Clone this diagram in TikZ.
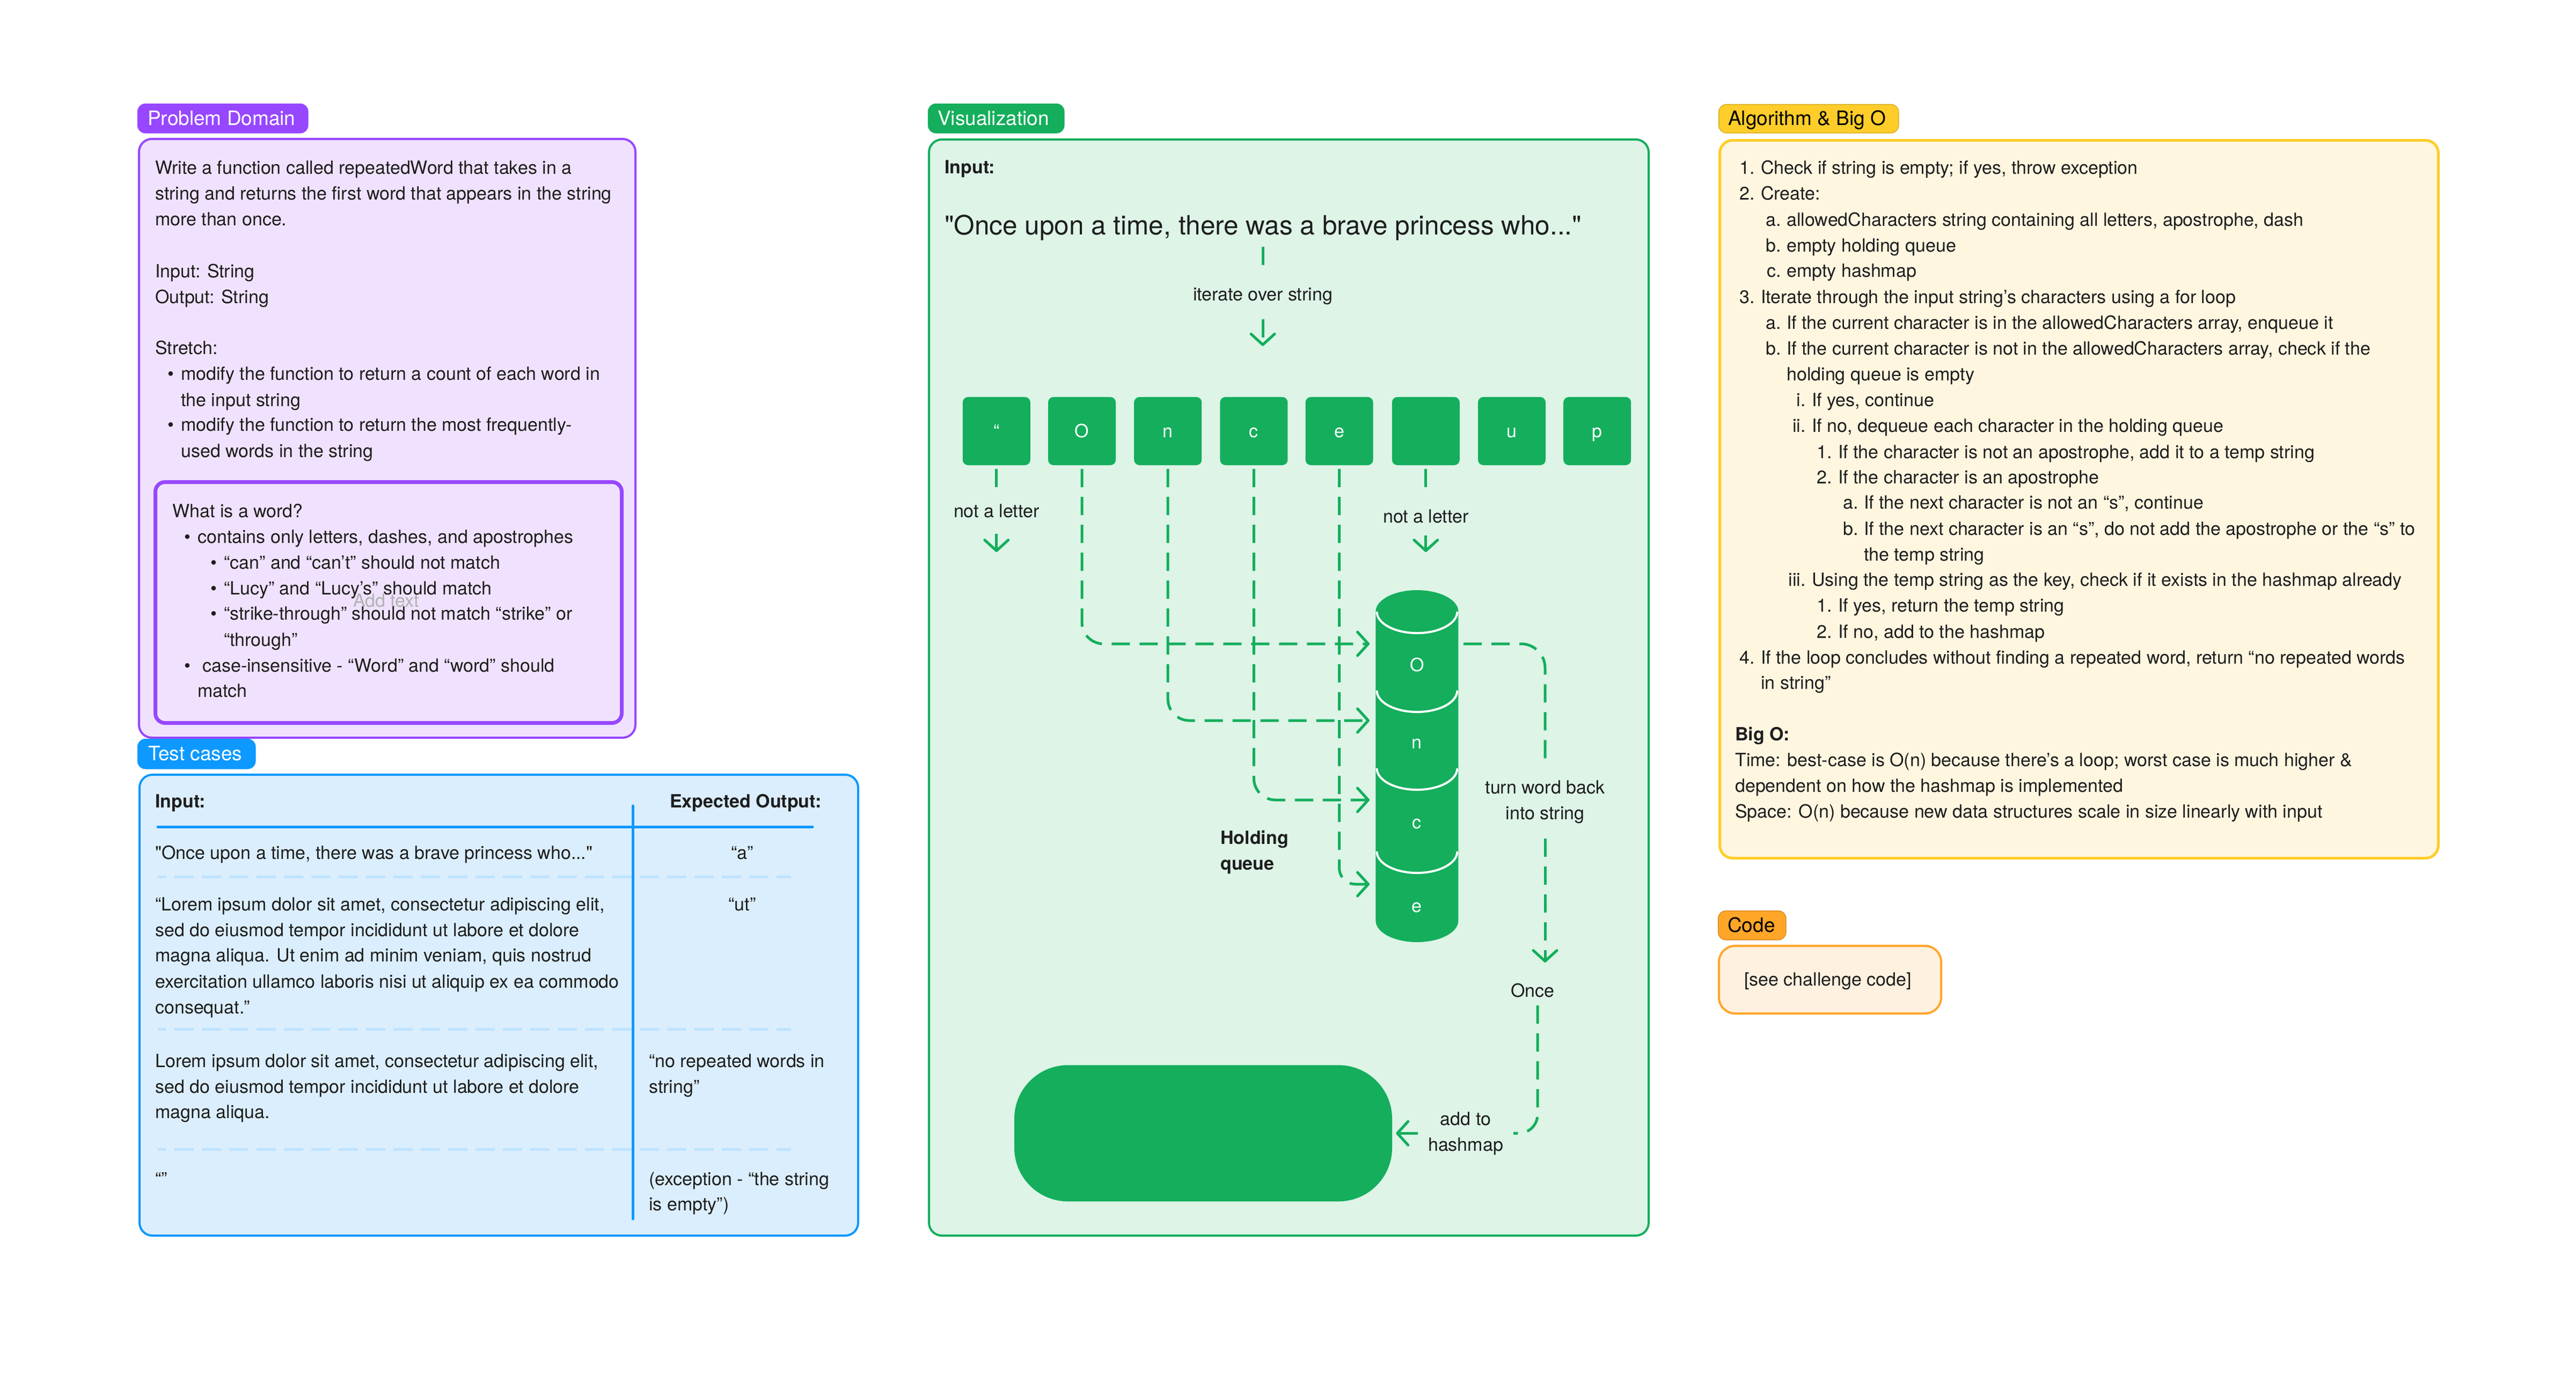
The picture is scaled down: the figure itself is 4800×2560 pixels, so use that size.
\documentclass[tikz,border=0pt]{standalone}
\usepackage{fontspec}
\setmainfont{TeX Gyre Heros}[Ligatures=TeXOff]
\usetikzlibrary{arrows.meta}
\definecolor{txtc}{HTML}{1E1E1E}
\definecolor{pdc}{HTML}{9747FF}
\definecolor{pdfill}{HTML}{F0E2FE}
\definecolor{tcc}{HTML}{0D99FF}
\definecolor{tcfill}{HTML}{DBEEFD}
\definecolor{sepc}{HTML}{BDE3FF}
\definecolor{vc}{HTML}{14AE5C}
\definecolor{vfill}{HTML}{DDF4E7}
\definecolor{ac}{HTML}{FFCD29}
\definecolor{afill}{HTML}{FFF6E0}
\definecolor{cc}{HTML}{FFA629}
\definecolor{cfill}{HTML}{FFF1DF}
\definecolor{addc}{HTML}{B3B3B3}
\newcommand\TL[4]{\node[t,anchor=base west] (#1) at (#2,#3) {#4};}
\newcommand\TB[4]{\node[tb,anchor=base west] (#1) at (#2,#3) {#4};}
\newcommand\MK[4]{\node[t,anchor=base east] (#1) at (#2,#3) {#4};}
\begin{document}
\begin{tikzpicture}[x=1pt,y=-1pt,
  t/.style={inner sep=0pt, text=txtc, font=\fontsize{34}{48}\selectfont},
  tb/.style={inner sep=0pt, text=txtc, font=\fontsize{34}{48}\selectfont\bfseries},
  tagtxt/.style={inner sep=0pt, font=\fontsize{37}{44}\selectfont},
  framebox/.style={line width=4pt, rounded corners=24pt, anchor=north west, inner sep=0pt},
  tagbox/.style={rounded corners=14pt, line width=1.5pt, anchor=north west, inner sep=0pt},
  dl/.style={draw=vc, line width=5pt, dash pattern=on 34pt off 18pt},
  arr/.style={-{Straight Barb[length=20pt,width=44pt,round]}},
  sq/.style={fill=vc, rounded corners=10pt, minimum width=126pt, minimum height=127pt, inner sep=0pt, text=white, font=\fontsize{34}{48}\selectfont, text height=24pt, text depth=0pt},
  lbl/.style={inner sep=0pt, text=txtc, font=\fontsize{34}{48}\selectfont, align=center},
  sepl/.style={draw=sepc, line width=5pt, dash pattern=on 36pt off 15pt},
]
\fill[white] (0,0) rectangle (4800,2560);
\useasboundingbox (0,0) rectangle (4800,2560);

%% ---------------- Problem Domain ----------------
\node[tagbox, fill=pdc, draw=pdc, minimum width=317pt, minimum height=54pt] (pdTag) at (256,193) {};
\node[tagtxt, text=white, anchor=base west] (pdTagT) at (275,233) {Problem Domain};
\node[framebox, draw=pdc, fill=pdfill, minimum width=925pt, minimum height=1116pt] (pdBox) at (257,257) {};
\node[draw=pdc, fill=pdfill, line width=7pt, rounded corners=18pt, anchor=north west, inner sep=0pt, minimum width=869pt, minimum height=449pt] (pdInner) at (286,895) {};
\TL{p1}{289}{324}{Write a function called repeatedWord that takes in a}
\TL{p2}{289}{372}{string and returns the first word that appears in the string}
\TL{p3}{289}{420}{more than once.}
\TL{p4}{289}{517}{Input: String}
\TL{p5}{289}{565}{Output: String}
\TL{p6}{289}{660}{Stretch:}
\TL{pb1}{312}{708}{•}
\TL{p7}{337}{708}{modify the function to return a count of each word in}
\TL{p8}{337}{757}{the input string}
\TL{pb2}{312}{803}{•}
\TL{p9}{337}{803}{modify the function to return the most frequently-}
\TL{p10}{337}{852}{used words in the string}
\node[t, text=addc, anchor=base west] (addtext) at (658,1131) {Add text};
\TL{w1}{321}{964}{What is a word?}
\TL{wb1}{343}{1012}{•}
\TL{w2}{368}{1012}{contains only letters, dashes, and apostrophes}
\TL{wb2}{392}{1060}{•}
\TL{w3}{417}{1060}{“can” and “can’t” should not match}
\TL{wb3}{392}{1108}{•}
\TL{w4}{417}{1108}{“Lucy” and “Lucy’s” should match}
\TL{wb4}{392}{1155}{•}
\TL{w5}{417}{1155}{“strike-through” should not match “strike” or}
\TL{w6}{417}{1204}{“through”}
\TL{wb5}{343}{1252}{•}
\TL{w7}{377}{1252}{case-insensitive - “Word” and “word” should}
\TL{w8}{368}{1299}{match}

%% ---------------- Test cases ----------------
\node[tagbox, fill=tcc, draw=tcc, minimum width=219pt, minimum height=55pt] (tcTag) at (256,1377) {};
\node[tagtxt, text=white, anchor=base west] (tcTagT) at (276,1417) {Test cases};
\node[framebox, draw=tcc, fill=tcfill, minimum width=1339pt, minimum height=859pt] (tcBox) at (258,1442) {};
\TB{tIn}{289}{1505}{Input:}
\TB{tOut}{1248}{1505}{Expected Output:}
\coordinate (hl1) at (294,1541);
\coordinate (hl2) at (1514,1541);
\draw[tcc, line width=5pt, line cap=round] (hl1) -- (hl2);
\coordinate (s1a) at (294,1634); \coordinate (s1b) at (1474,1634);
\coordinate (s2a) at (294,1918); \coordinate (s2b) at (1474,1918);
\coordinate (s3a) at (294,2142); \coordinate (s3b) at (1474,2142);
\draw[sepl, dash phase=20pt] (s1a) -- (s1b);
\draw[sepl, dash phase=20pt] (s2a) -- (s2b);
\draw[sepl, dash phase=20pt] (s3a) -- (s3b);
\coordinate (vl1) at (1179,1502);
\coordinate (vl2) at (1179,2272);
\draw[tcc, line width=5pt, line cap=round] (vl1) -- (vl2);
\TL{r1}{289}{1601}{"Once upon a time, there was a brave princess who..."}
\node[t, anchor=base] (o1) at (1383,1601) {“a”};
\TL{r2a}{289}{1697}{“Lorem ipsum dolor sit amet, consectetur adipiscing elit,}
\TL{r2b}{289}{1745}{sed do eiusmod tempor incididunt ut labore et dolore}
\TL{r2c}{289}{1792}{magna aliqua. Ut enim ad minim veniam, quis nostrud}
\TL{r2d}{289}{1841}{exercitation ullamco laboris nisi ut aliquip ex ea commodo}
\TL{r2e}{289}{1889}{consequat.”}
\node[t, anchor=base] (o2) at (1383,1697) {“ut”};
\TL{r3a}{289}{1989}{Lorem ipsum dolor sit amet, consectetur adipiscing elit,}
\TL{r3b}{289}{2037}{sed do eiusmod tempor incididunt ut labore et dolore}
\TL{r3c}{289}{2084}{magna aliqua.}
\TL{o3a}{1209}{1989}{“no repeated words in}
\TL{o3b}{1209}{2037}{string”}
\TL{r4}{289}{2209}{“”}
\TL{o4a}{1209}{2209}{(exception - “the string}
\TL{o4b}{1209}{2256}{is empty”)}

%% ---------------- Visualization ----------------
\node[tagbox, fill=vc, draw=vc, minimum width=253pt, minimum height=54pt] (vTag) at (1729,193) {};
\node[tagtxt, text=white, anchor=base west] (vTagT) at (1747,233) {Visualization};
\node[framebox, draw=vc, fill=vfill, minimum width=1341pt, minimum height=2043pt] (vBox) at (1729,258) {};
\TB{vIn}{1760}{323}{Input:}
\node[inner sep=0pt, text=txtc, font=\fontsize{49.5}{60}\selectfont, anchor=base west] (bigS) at (1760,437) {"Once upon a time, there was a brave princess who..."};
\node[lbl, minimum height=85pt] (iter) at (2353,552) {iterate over string};
\coordinate (iterA) at (2353,460);
\coordinate (iterEnd) at (2353,645);
\draw[dl] (iterA) -- (iter.north);
\draw[dl, arr] (iter.south) -- (iterEnd);

\node[sq] (c1) at (1856.8,803.5) {“};
\node[sq] (c2) at (2016.0,803.5) {O};
\node[sq] (c3) at (2176.2,803.5) {n};
\node[sq] (c4) at (2336.4,803.5) {c};
\node[sq] (c5) at (2495.6,803.5) {e};
\node[sq] (c6) at (2656.8,803.5) {};
\node[sq] (c7) at (2817.0,803.5) {u};
\node[sq] (c8) at (2976.2,803.5) {p};

% not a letter labels
\node[lbl, minimum height=85pt] (nl1) at (1856.8,952) {not a letter};
\coordinate (nl1End) at (1856.8,1029);
\draw[dl] ([yshift=-7pt]c1.south) -- (nl1.north);
\draw[dl, arr] (nl1.south) -- (nl1End);
\node[lbl, minimum height=72pt] (nl2) at (2656.8,962) {not a letter};
\coordinate (nl2End) at (2656.8,1029);
\draw[dl] ([yshift=-7pt]c6.south) -- (nl2.north);
\draw[dl, arr] (nl2.south) -- (nl2End);

% holding queue cylinder
\foreach \ya/\yb in {1140/1287, 1287/1432, 1432/1587, 1587/1716} {
  \fill[vc] (2563.4,\ya) -- (2563.4,\yb) arc[start angle=180,end angle=360,x radius=77pt,y radius=40pt] -- (2717.4,\ya) -- cycle;
  \fill[vc] (2640.4,\ya) ellipse[x radius=77pt, y radius=40pt];
  \draw[white, line width=4pt] (2565.4,\ya) arc[start angle=180,end angle=360,x radius=75pt,y radius=40pt];
}
\node[t, text=white, anchor=base] (qO) at (2640.4,1251) {O};
\node[t, text=white, anchor=base] (qN) at (2640.4,1395) {n};
\node[t, text=white, anchor=base] (qC) at (2640.4,1544) {c};
\node[t, text=white, anchor=base] (qE) at (2640.4,1700) {e};
\TB{hq1}{2274}{1573}{Holding}
\TB{hq2}{2274}{1621}{queue}

\coordinate (tO) at (2552,1200);
\coordinate (tN) at (2552,1343);
\coordinate (tC) at (2552,1491);
\coordinate (tE) at (2552,1648);
\draw[dl, arr, rounded corners=40pt] ([yshift=-7pt]c2.south) |- (tO);
\draw[dl, arr, rounded corners=40pt] ([yshift=-7pt]c3.south) |- (tN);
\draw[dl, arr, rounded corners=40pt] ([yshift=-7pt]c4.south) |- (tC);
\draw[dl, arr, rounded corners=30pt] ([yshift=-7pt]c5.south) |- (tE);

% turn word back into string
\coordinate (qR) at (2727,1200);
\node[lbl, minimum height=135pt] (turn) at (2879,1495) {turn word back\\into string};
\coordinate (onceIn) at (2879,1794);
\draw[dl, rounded corners=45pt] (qR) -| (turn.north);
\draw[dl, arr] (turn.south) -- (onceIn);
\node[t, anchor=base] (once) at (2856,1858) {Once};
\coordinate (onceOut) at (2865,1874);

% hashmap pill
\node[fill=vc, rounded corners=100pt, minimum width=704pt, minimum height=254pt, inner sep=0pt] (pill) at (2242,2112.3) {};
\node[lbl, minimum width=178pt] (add) at (2731,2112.3) {add to\\hashmap};
\draw[dl, rounded corners=35pt] (onceOut) |- (add.east);
\draw[dl, arr] (add.west) -- ([xshift=7pt]pill.east);

%% ---------------- Algorithm & Big O ----------------
\node[tagbox, fill=ac, draw=ac!85!black, minimum width=335pt, minimum height=53pt] (aTag) at (3202,194) {};
\node[tagtxt, text=black, anchor=base west] (aTagT) at (3220,233) {Algorithm \& Big O};
\node[framebox, draw=ac, fill=afill, line width=5pt, minimum width=1339pt, minimum height=1338pt] (aBox) at (3202,259) {};
\MK{m1}{3270}{324}{1.}   \TL{a1}{3281}{324}{Check if string is empty; if yes, throw exception}
\MK{m2}{3270}{372}{2.}   \TL{a2}{3281}{372}{Create:}
\MK{m3}{3319}{421}{a.}   \TL{a3}{3329}{421}{allowedCharacters string containing all letters, apostrophe, dash}
\MK{m4}{3319}{469}{b.}   \TL{a4}{3329}{469}{empty holding queue}
\MK{m5}{3319}{516}{c.}   \TL{a5}{3329}{516}{empty hashmap}
\MK{m6}{3270}{565}{3.}   \TL{a6}{3281}{565}{Iterate through the input string’s characters using a for loop}
\MK{m7}{3319}{613}{a.}   \TL{a7}{3329}{613}{If the current character is in the allowedCharacters array, enqueue it}
\MK{m8}{3319}{661}{b.}   \TL{a8}{3329}{661}{If the current character is not in the allowedCharacters array, check if the}
                          \TL{a9}{3329}{709}{holding queue is empty}
\MK{m10}{3365}{757}{i.}  \TL{a10}{3376}{757}{If yes, continue}
\MK{m11}{3365}{805}{ii.} \TL{a11}{3376}{805}{If no, dequeue each character in the holding queue}
\MK{m12}{3414}{854}{1.}  \TL{a12}{3425}{854}{If the character is not an apostrophe, add it to a temp string}
\MK{m13}{3414}{901}{2.}  \TL{a13}{3425}{901}{If the character is an apostrophe}
\MK{m14}{3463}{948}{a.}  \TL{a14}{3473}{948}{If the next character is not an “s”, continue}
\MK{m15}{3463}{997}{b.}  \TL{a15}{3473}{997}{If the next character is an “s”, do not add the apostrophe or the “s” to}
                          \TL{a16}{3473}{1045}{the temp string}
\MK{m17}{3365}{1092}{iii.} \TL{a17}{3376}{1092}{Using the temp string as the key, check if it exists in the hashmap already}
\MK{m18}{3414}{1140}{1.} \TL{a18}{3425}{1140}{If yes, return the temp string}
\MK{m19}{3414}{1189}{2.} \TL{a19}{3425}{1189}{If no, add to the hashmap}
\MK{m20}{3270}{1237}{4.} \TL{a20}{3281}{1237}{If the loop concludes without finding a repeated word, return “no repeated words}
                          \TL{a21}{3281}{1284}{in string”}
\TB{bigO}{3233}{1380}{Big O:}
\TL{b1}{3233}{1428}{Time: best-case is O(n) because there’s a loop; worst case is much higher \&}
\TL{b2}{3233}{1476}{dependent on how the hashmap is implemented}
\TL{b3}{3233}{1524}{Space: O(n) because new data structures scale in size linearly with input}

%% ---------------- Code ----------------
\node[tagbox, fill=cc, draw=cc!85!black, minimum width=126pt, minimum height=54pt] (cTag) at (3201,1697) {};
\node[tagtxt, text=black, anchor=base west] (cTagT) at (3219,1737) {Code};
\node[framebox, draw=cc, fill=cfill, rounded corners=30pt, minimum width=414pt, minimum height=126pt] (cBox) at (3201,1761) {};
\TL{code}{3250}{1837}{[see challenge code]}
\end{tikzpicture}
\end{document}
